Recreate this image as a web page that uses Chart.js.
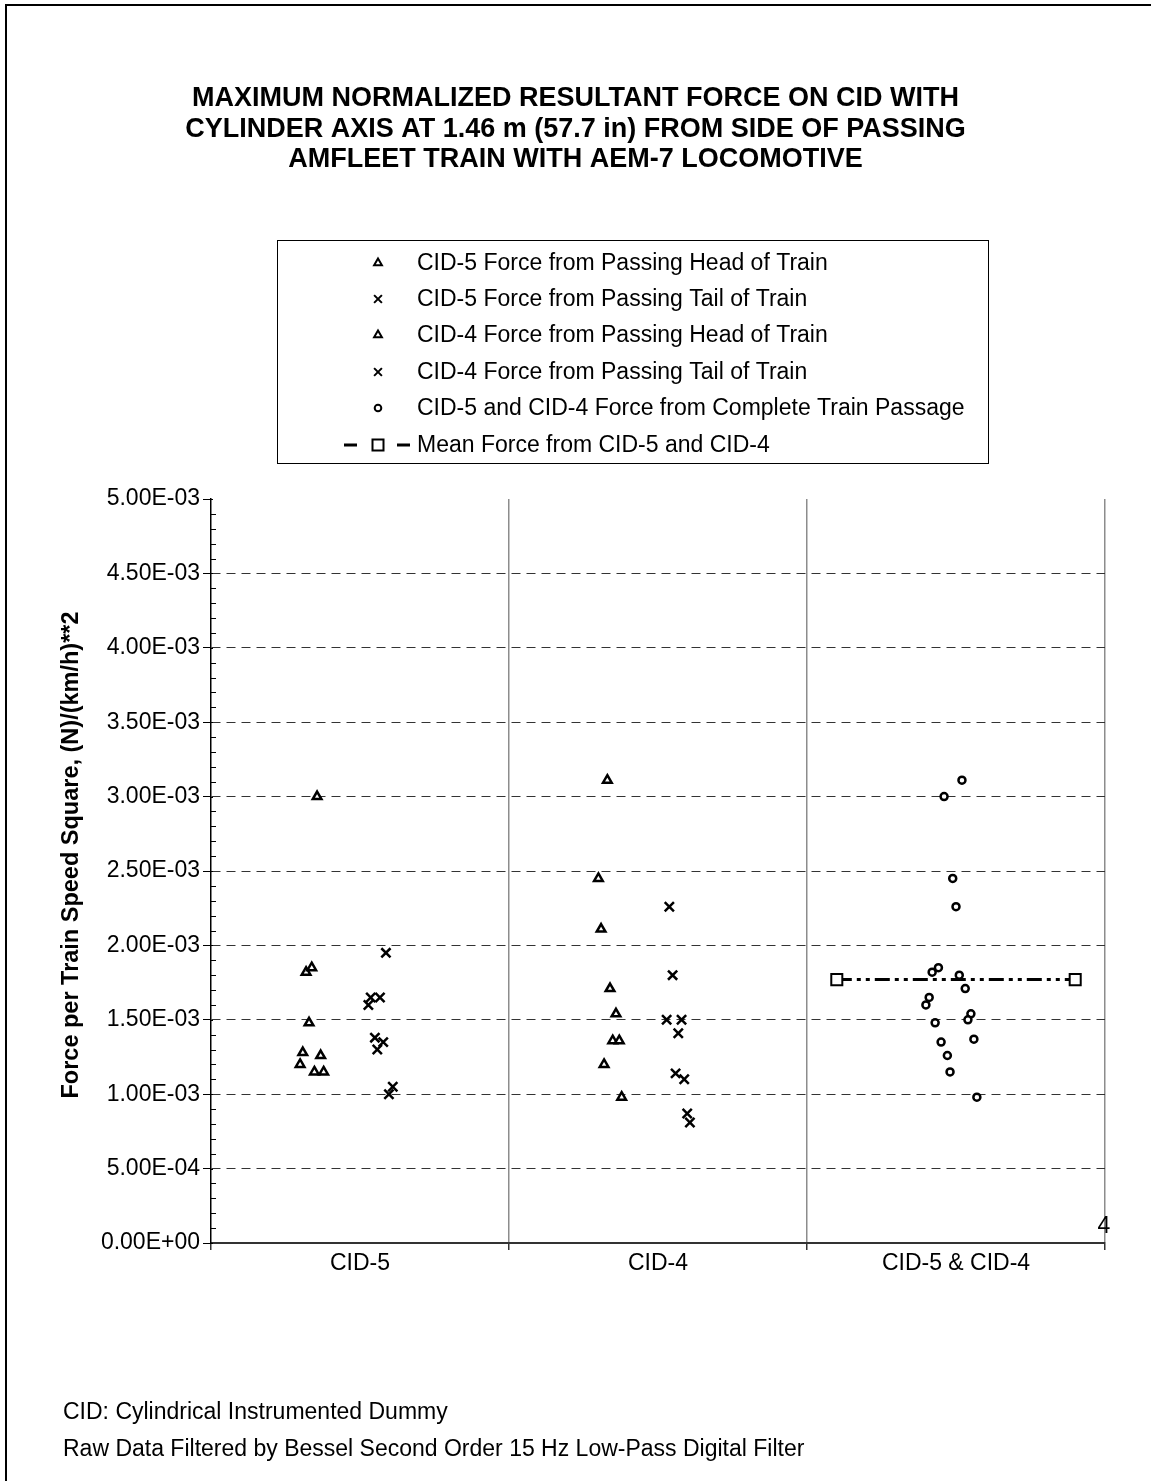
<!DOCTYPE html>
<html>
<head>
<meta charset="utf-8">
<title>Maximum Normalized Resultant Force on CID</title>
<script src="https://cdn.jsdelivr.net/npm/chart.js@4/dist/chart.umd.min.js"></script>
<style>
  html, body { margin: 0; padding: 0; background: #fff; }
  canvas { display: block; }
</style>
</head>
<body>
<canvas id="chart" width="1151" height="1481"></canvas>
<script>
// Normalized force values, (N)/(km/h)^2, with the horizontal jitter position of each mark.
const cid5HeadX = [1.356, 1.319, 1.338, 1.329, 1.308, 1.299, 1.368, 1.347, 1.378];
const cid5HeadY = [3.00e-3, 1.82e-3, 1.85e-3, 1.48e-3, 1.28e-3, 1.20e-3, 1.26e-3, 1.15e-3, 1.15e-3];

const cid5TailX = [1.587, 1.528, 1.536, 1.567, 1.550, 1.578, 1.558, 1.610, 1.597];
const cid5TailY = [1.95e-3, 1.60e-3, 1.65e-3, 1.65e-3, 1.38e-3, 1.35e-3, 1.30e-3, 1.05e-3, 1.00e-3];

const cid4HeadX = [2.330, 2.300, 2.309, 2.339, 2.359, 2.348, 2.370, 2.319, 2.378];
const cid4HeadY = [3.11e-3, 2.45e-3, 2.11e-3, 1.71e-3, 1.54e-3, 1.36e-3, 1.36e-3, 1.20e-3, 0.98e-3];

const cid4TailX = [2.538, 2.549, 2.529, 2.579, 2.568, 2.559, 2.588, 2.598, 2.607];
const cid4TailY = [2.26e-3, 1.80e-3, 1.50e-3, 1.50e-3, 1.41e-3, 1.14e-3, 1.10e-3, 0.87e-3, 0.81e-3];

const completeX = [3.520, 3.460, 3.489, 3.500, 3.420, 3.441, 3.511, 3.531, 3.410,
                   3.399, 3.550, 3.540, 3.430, 3.560, 3.450, 3.471, 3.480, 3.570];
const completeY = [3.11e-3, 3.00e-3, 2.45e-3, 2.26e-3, 1.82e-3, 1.85e-3, 1.80e-3, 1.71e-3, 1.65e-3,
                   1.60e-3, 1.54e-3, 1.50e-3, 1.48e-3, 1.37e-3, 1.35e-3, 1.26e-3, 1.15e-3, 0.98e-3];

const meanX = [3.1, 3.9];
const meanValue = 1.77e-3;

const categories = ['CID-5', 'CID-4', 'CID-5 & CID-4'];
const categoryCenters = [1.5, 2.5, 3.5];
const categoryBounds = [1, 2, 3, 4];

const seriesNames = [
  'CID-5 Force from Passing Head of Train',
  'CID-5 Force from Passing Tail of Train',
  'CID-4 Force from Passing Head of Train',
  'CID-4 Force from Passing Tail of Train',
  'CID-5 and CID-4 Force from Complete Train Passage',
  'Mean Force from CID-5 and CID-4'
];

const titleLines = [
  'MAXIMUM NORMALIZED RESULTANT FORCE ON CID WITH',
  'CYLINDER AXIS AT 1.46 m (57.7 in) FROM SIDE OF PASSING',
  'AMFLEET TRAIN WITH AEM-7 LOCOMOTIVE'
];
const yAxisTitle = 'Force per Train Speed Square, (N)/(km/h)**2';
const footnotes = [
  'CID: Cylindrical Instrumented Dummy',
  'Raw Data Filtered by Bessel Second Order 15 Hz Low-Pass Digital Filter'
];

const FONT = '"Liberation Sans", Arial, Helvetica, sans-serif';
const TEXT_SIZE = 23;
const pts = (xs, ys) => xs.map((x, i) => ({ x: x, y: ys[i] }));

function fmtExp(v) {
  if (Math.abs(v) < 1e-12) return '0.00E+00';
  const parts = v.toExponential(2).split('e');
  const n = parseInt(parts[1], 10);
  return parts[0] + 'E' + (n < 0 ? '-' : '+') + String(Math.abs(n)).padStart(2, '0');
}

const markerBase = { showLine: false, borderColor: '#000', backgroundColor: '#fff', pointBorderWidth: 2.5 };

// Mark shapes for the boxed legend
function drawMarker(ctx, kind, x, y) {
  ctx.save();
  ctx.strokeStyle = '#000';
  ctx.fillStyle = '#fff';
  ctx.lineWidth = 2;
  ctx.beginPath();
  if (kind === 'triangle') {
    const r = 4.5;
    for (let k = 0; k < 3; k++) {
      const a = k * 2 * Math.PI / 3;
      const px = x + Math.sin(a) * r, py = y - Math.cos(a) * r;
      k === 0 ? ctx.moveTo(px, py) : ctx.lineTo(px, py);
    }
    ctx.closePath(); ctx.fill(); ctx.stroke();
  } else if (kind === 'cross') {
    const d = 3.9;
    ctx.moveTo(x - d, y - d); ctx.lineTo(x + d, y + d);
    ctx.moveTo(x + d, y - d); ctx.lineTo(x - d, y + d);
    ctx.stroke();
  } else if (kind === 'circle') {
    ctx.arc(x, y, 3.3, 0, Math.PI * 2);
    ctx.fill(); ctx.stroke();
  } else if (kind === 'mean') {
    ctx.lineWidth = 3;
    ctx.moveTo(344, y); ctx.lineTo(357, y);
    ctx.moveTo(397, y); ctx.lineTo(410, y);
    ctx.stroke();
    ctx.beginPath();
    ctx.lineWidth = 2;
    ctx.rect(x - 5.5, y - 5.5, 11, 11);
    ctx.fill(); ctx.stroke();
  }
  ctx.restore();
}

const decorations = {
  id: 'decorations',
  afterDraw(chart) {
    const ctx = chart.ctx;
    const xs = chart.scales.x, ys = chart.scales.y;
    const area = chart.chartArea;
    ctx.save();

    // page frame
    ctx.strokeStyle = '#000';
    ctx.lineWidth = 2;
    ctx.beginPath();
    ctx.moveTo(6, 1481); ctx.lineTo(6, 5); ctx.lineTo(1151, 5);
    ctx.stroke();

    // title
    ctx.fillStyle = '#000';
    ctx.textAlign = 'center';
    ctx.textBaseline = 'middle';
    ctx.font = 'bold 27px ' + FONT;
    titleLines.forEach((t, i) => ctx.fillText(t, 575.5, 99 + i * 30.5));

    // value axis title
    ctx.save();
    ctx.translate(72, 855);
    ctx.rotate(-Math.PI / 2);
    ctx.font = 'bold 23.5px ' + FONT;
    ctx.fillText(yAxisTitle, 0, 0);
    ctx.restore();

    // legend
    ctx.lineWidth = 1;
    ctx.strokeStyle = '#000';
    ctx.strokeRect(277.5, 240.5, 711, 223);
    const kinds = ['triangle', 'cross', 'triangle', 'cross', 'circle', 'mean'];
    const rowY = [263, 299, 335, 372, 408, 445];
    ctx.font = TEXT_SIZE + 'px ' + FONT;
    ctx.textAlign = 'left';
    seriesNames.forEach((name, i) => {
      drawMarker(ctx, kinds[i], 378, rowY[i]);
      ctx.fillStyle = '#000';
      ctx.fillText(name, 417, rowY[i] + 1);
    });

    // minor ticks inside the value axis, major ticks crossing it
    ctx.strokeStyle = '#000';
    ctx.lineWidth = 1;
    ctx.beginPath();
    for (let k = 0; k <= 50; k++) {
      const py = Math.round(ys.getPixelForValue(k * 1e-4)) + 0.5;
      const len = (k % 5 === 0) ? 2 : 5;
      ctx.moveTo(area.left, py); ctx.lineTo(area.left + len, py);
    }
    ctx.stroke();

    // category labels under each band
    ctx.fillStyle = '#000';
    ctx.font = TEXT_SIZE + 'px ' + FONT;
    ctx.textAlign = 'center';
    categories.forEach((c, i) => ctx.fillText(c, xs.getPixelForValue(categoryCenters[i]), area.bottom + 21));
    ctx.fillText(String(categoryBounds[3]), xs.getPixelForValue(categoryBounds[3]) - 1, area.bottom - 16);

    // footnotes
    ctx.textAlign = 'left';
    footnotes.forEach((f, i) => ctx.fillText(f, 63, 1413 + i * 37));
    ctx.restore();
  }
};

new Chart(document.getElementById('chart'), {
  type: 'scatter',
  data: {
    datasets: [
      Object.assign({ label: seriesNames[0], data: pts(cid5HeadX, cid5HeadY), pointStyle: 'triangle', pointRadius: 5 }, markerBase),
      Object.assign({ label: seriesNames[1], data: pts(cid5TailX, cid5TailY), pointStyle: 'crossRot', pointRadius: 6.5 }, markerBase),
      Object.assign({ label: seriesNames[2], data: pts(cid4HeadX, cid4HeadY), pointStyle: 'triangle', pointRadius: 5 }, markerBase),
      Object.assign({ label: seriesNames[3], data: pts(cid4TailX, cid4TailY), pointStyle: 'crossRot', pointRadius: 6.5 }, markerBase),
      Object.assign({ label: seriesNames[4], data: pts(completeX, completeY), pointStyle: 'circle', pointRadius: 3.5 }, markerBase),
      {
        label: seriesNames[5],
        type: 'line',
        data: meanX.map(x => ({ x: x, y: meanValue })),
        showLine: true,
        borderColor: '#000',
        borderWidth: 3,
        borderDash: [15, 5, 4, 5, 4, 5],
        pointStyle: 'rect',
        pointRadius: 7.8,
        pointBorderWidth: 2,
        pointBorderColor: '#000',
        pointBackgroundColor: '#fff',
        fill: false
      }
    ]
  },
  options: {
    responsive: false,
    animation: false,
    devicePixelRatio: 1,
    layout: { padding: { left: 0, top: 499, right: 46, bottom: 0 } },
    plugins: {
      legend: { display: false },
      title: { display: false },
      tooltip: { enabled: false }
    },
    scales: {
      x: {
        type: 'linear',
        min: 1,
        max: 4,
        afterBuildTicks: (scale) => { scale.ticks = categoryBounds.map(v => ({ value: v })); },
        afterFit: (scale) => { scale.height = 238; },
        ticks: { callback: () => '', font: { size: TEXT_SIZE, family: FONT } },
        grid: {
          color: (c) => (c.tick && c.tick.value === 1) ? 'rgba(0,0,0,0)' : '#8c8c8c',
          lineWidth: 1.5,
          drawTicks: true,
          tickLength: 7,
          tickColor: '#333',
          tickWidth: 1.5
        },
        border: { display: true, color: '#333', width: 2 }
      },
      y: {
        type: 'linear',
        min: 0,
        max: 0.005,
        afterFit: (scale) => { scale.width = 211; },
        ticks: {
          stepSize: 0.0005,
          padding: 3,
          color: '#000',
          font: { size: TEXT_SIZE, family: FONT },
          callback: (v) => fmtExp(v)
        },
        grid: {
          color: (c) => (c.tick && (c.tick.value < 1e-9 || c.tick.value > 0.005 - 1e-9)) ? 'rgba(0,0,0,0)' : '#333',
          lineWidth: 1,
          drawTicks: true,
          tickLength: 8,
          tickColor: '#000',
          tickWidth: 1,
          tickBorderDash: []
        },
        border: { display: true, color: '#000', width: 1.5, dash: [9, 6] },
        title: { display: false }
      }
    }
  },
  plugins: [decorations]
});
</script>
</body>
</html>
